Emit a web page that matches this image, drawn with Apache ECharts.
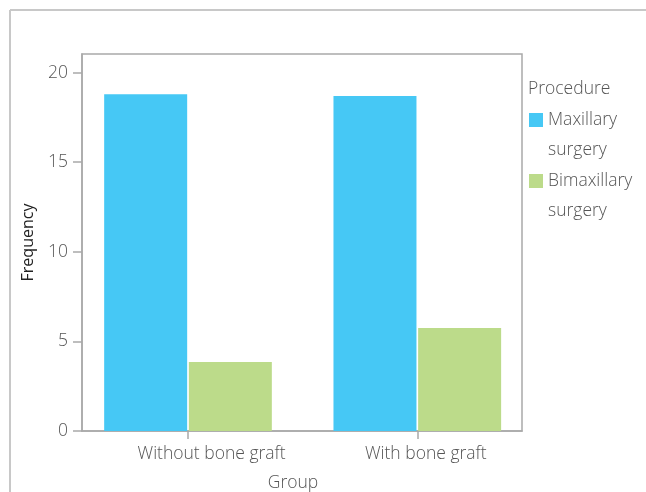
<!DOCTYPE html>
<html>
<head>
<meta charset="utf-8">
<script src="https://cdn.jsdelivr.net/npm/echarts@6/dist/echarts.min.js"></script>
<style>html,body{margin:0;padding:0;background:#fff}#c{width:646px;height:492px}</style>
</head>
<body>
<div id="c"></div>
<script>
const categories = ['Without bone graft', 'With bone graft'];
const seriesNames = ['Maxillary surgery', 'Bimaxillary surgery'];
const legendLines = ['Maxillary\nsurgery', 'Bimaxillary\nsurgery'];
const maxillary = [18.8, 18.7];
const bimaxillary = [3.85, 5.75];
const yTicks = [0, 5, 10, 15, 20];
const yTitle = 'Frequency';
const xTitle = 'Group';
const legendTitle = 'Procedure';

const FONT = "'Open Sans', sans-serif";
const FS = 17.5;
const TXT = '#555';
const AX = '#a9a9a9';

const chart = echarts.init(document.getElementById('c'), null, {renderer: 'canvas'});
const catPos = categories.map((c, i) => i + 1);
const toPts = arr => arr.map((v, i) => [catPos[i], v]);

chart.setOption({
  animation: false,
  backgroundColor: '#fff',
  grid: {left: 82, top: 54, right: 124, bottom: 61, containLabel: false, outerBoundsMode: 'none', show: true, borderColor: AX, borderWidth: 1.5, backgroundColor: 'transparent'},
  xAxis: {
    type: 'value', min: 0.5377, max: 2.4566,
    splitLine: {show: false},
    axisLine: {show: true, lineStyle: {color: AX, width: 1.5}},
    axisTick: {show: true, length: 8, lineStyle: {color: AX, width: 1.5}, customValues: catPos},
    axisLabel: {
      customValues: [1.103, 2.037],
      formatter: v => categories[v < 1.5 ? 0 : 1],
      color: TXT, fontFamily: FONT, fontWeight: 300, fontSize: FS, margin: 14
    },
    name: xTitle, nameLocation: 'middle', nameGap: 43,
    nameTextStyle: {color: TXT, fontFamily: FONT, fontWeight: 300, fontSize: FS, padding: [0, 18, 0, 0]}
  },
  yAxis: {
    type: 'value', min: 0, max: 21.04,
    splitLine: {show: false},
    axisLine: {show: true, lineStyle: {color: AX, width: 1.5}},
    axisTick: {show: true, length: 9, lineStyle: {color: AX, width: 1.5}, customValues: yTicks},
    axisLabel: {customValues: yTicks, color: TXT, fontFamily: FONT, fontWeight: 300, fontSize: FS, margin: 14},
    name: yTitle, nameLocation: 'middle', nameGap: 46,
    nameTextStyle: {color: '#222', fontFamily: FONT, fontWeight: 500, fontSize: 16}
  },
  legend: {
    orient: 'vertical', left: 529, top: 75, padding: 0,
    itemWidth: 14, itemHeight: 14, itemGap: -29,
    icon: 'rect',
    data: seriesNames,
    formatter: n => '\n' + legendLines[seriesNames.indexOf(n)],
    textStyle: {color: TXT, fontFamily: FONT, fontWeight: 300, fontSize: FS, lineHeight: 30},
    selectedMode: false
  },
  graphic: [
    {type: 'line', shape: {x1: 10, y1: 10, x2: 646, y2: 10}, style: {stroke: '#c8c8c8', lineWidth: 2}},
    {type: 'line', shape: {x1: 10, y1: 10, x2: 10, y2: 492}, style: {stroke: '#c8c8c8', lineWidth: 2}},
    {type: 'text', x: 528, y: 89, style: {text: legendTitle, fill: TXT, font: "300 17.5px 'Open Sans', sans-serif", verticalAlign: 'middle'}}
  ],
  series: [
    {type: 'bar', name: seriesNames[0], data: toPts(maxillary), barWidth: 83, barGap: '2%', itemStyle: {color: '#46c8f5'}},
    {type: 'bar', name: seriesNames[1], data: toPts(bimaxillary), barWidth: 83, barGap: '2%', itemStyle: {color: '#bcdb8a'}}
  ]
});
</script>
</body>
</html>
